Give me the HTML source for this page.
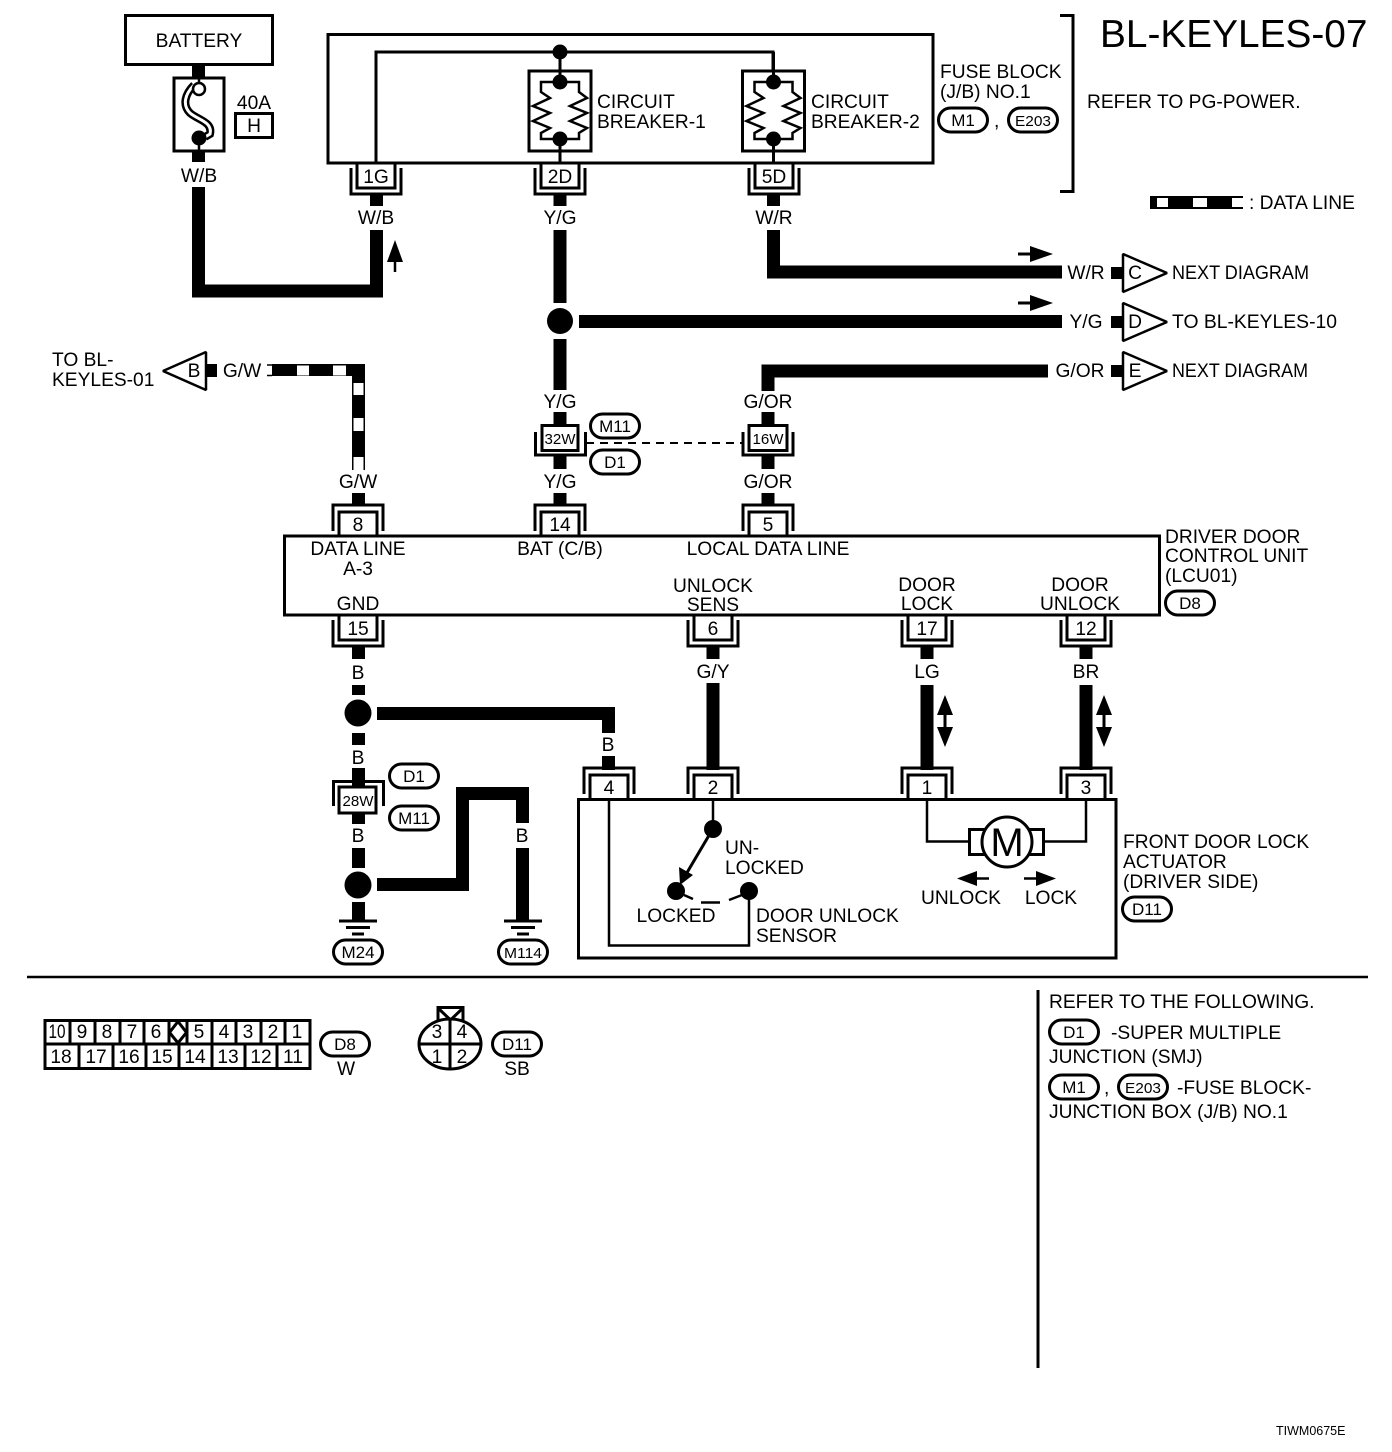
<!DOCTYPE html>
<html><head><meta charset="utf-8"><title>BL-KEYLES-07</title>
<style>
html,body{margin:0;padding:0;background:#fff}
svg{display:block}
text{font-family:"Liberation Sans",Arial,sans-serif;font-size:19.200px;fill:#000;stroke:none}
.m{text-anchor:middle}
.s{font-size:17px}
.x{font-size:15px}
.ln{fill:none;stroke:#000;stroke-width:3}
.th{fill:none;stroke:#000;stroke-width:2.5}
.w{fill:none;stroke:#000;stroke-width:13}
.o{fill:#fff;stroke:#000;stroke-width:3}
</style></head>
<body>
<svg width="1392" height="1452" viewBox="0 0 1392 1452" xmlns="http://www.w3.org/2000/svg">
<defs>
<g id="cd"><path class="ln" d="M-19,0V25H19V0M-25,5V31H25V5"/></g>
<g id="cu"><path class="ln" d="M-19,0V-24H19V0M-25,-5V-31H25V-5"/></g>
<g id="ov"><rect x="-24.5" y="-12" width="49" height="24" rx="12" ry="12" class="o"/></g>
<g id="gnd"><path d="M-19,0H19M-12,6.500H12M-6,13H6" stroke="#000" stroke-width="3" fill="none"/></g>
<g id="cb"><rect x="-31" y="-40" width="62" height="80" class="o"/>
<path class="th" d="M-19,-29V-19L-10,-13L-27,-5L-10,2L-27,10L-10,17L-19,22V28H19V22L27,17L10,10L27,2L10,-5L27,-13L19,-19V-29Z"/>
<path class="ln" d="M0,-59V-29M0,28V52"/>
<circle cx="0" cy="-29" r="7.500"/><circle cx="0" cy="28" r="7.500"/></g>
<g id="tri"><path fill="#fff" stroke="#000" stroke-width="2.500" stroke-linejoin="bevel" d="M0,-19L44,0L0,19Z"/><rect x="-12" y="-6" width="12" height="12"/></g>
<g id="ar"><path d="M1018,0H1035" stroke="#000" stroke-width="3"/><path d="M1030,-8L1053,0L1030,8Z"/></g>
<g id="da"><path d="M0,0L8,20H-8Z"/><path d="M0,52L8,32H-8Z"/><path d="M0,15V40" stroke="#000" stroke-width="3"/></g>
</defs>

<!-- battery & fuse -->
<rect x="125.500" y="15.500" width="147" height="49" class="ln"/>
<text x="199" y="47" class="m">BATTERY</text>
<path class="w" d="M198.500,64V80M198.500,148V162"/>
<rect x="174" y="78" width="50" height="73" class="o"/>
<path d="M194,85C185,94 182,105 190,113C198,120 213,122 210,134L205,137" fill="none" stroke="#000" stroke-width="8"/>
<path d="M194,85C185,94 182,105 190,113C198,120 213,122 210,134L205,137" fill="none" stroke="#fff" stroke-width="3"/>
<circle cx="199" cy="89" r="6" fill="#fff" stroke="#000" stroke-width="2.500"/>
<circle cx="199" cy="138" r="7.500"/>
<path d="M199,70V83M199,145V153" stroke="#000" stroke-width="2.500"/>
<text x="254" y="109" class="m">40A</text>
<rect x="235.500" y="113.500" width="37" height="24" class="ln"/>
<text x="254" y="132" class="m">H</text>
<text x="199" y="182" class="m">W/B</text>
<path class="w" d="M198.500,187V291H376.500V230"/>
<path d="M395,240L403,262H387Z"/><path d="M395,260V272" stroke="#000" stroke-width="2.500"/>

<!-- fuse block -->
<rect x="328" y="34.500" width="605" height="128.500" class="ln"/>
<path class="ln" d="M376,163V52H773V82"/>
<circle cx="560" cy="52" r="7.500"/>
<use href="#cb" x="560" y="111"/>
<use href="#cb" x="773.500" y="111"/>
<text x="597" y="108">CIRCUIT</text>
<text x="597" y="128">BREAKER-1</text>
<text x="811" y="108">CIRCUIT</text>
<text x="811" y="128">BREAKER-2</text>
<text x="940" y="78">FUSE BLOCK</text>
<text x="940" y="98">(J/B) NO.1</text>
<use href="#ov" x="963" y="120"/><text x="963" y="126" class="m s">M1</text>
<text x="994" y="127">,</text>
<use href="#ov" x="1033" y="120"/><text x="1033" y="126" class="m x" textLength="36" lengthAdjust="spacingAndGlyphs">E203</text>
<path class="ln" d="M1060,15.500H1073V191.500H1060"/>
<text x="1100" y="47" style="font-size:38.800px">BL-KEYLES-07</text>
<text x="1087" y="108">REFER TO PG-POWER.</text>

<!-- legend -->
<path d="M1150,197H1243M1150,208H1243" stroke="#000" stroke-width="2"/>
<rect x="1150" y="196" width="7" height="13"/><rect x="1168" y="196" width="25" height="13"/><rect x="1207" y="196" width="25" height="13"/>
<text x="1249" y="209">: DATA LINE</text>

<!-- top connectors -->
<use href="#cd" x="376" y="163"/><text x="376" y="183" class="m">1G</text>
<use href="#cd" x="560" y="163"/><text x="560" y="183" class="m">2D</text>
<use href="#cd" x="774" y="163"/><text x="774" y="183" class="m">5D</text>
<path class="w" d="M376.500,194V206M560,194V206M773.500,194V206"/>
<text x="376" y="224" class="m">W/B</text>
<text x="560" y="224" class="m">Y/G</text>
<text x="774" y="224" class="m">W/R</text>
<path class="w" d="M560,230V303M773.500,230V272H1062"/>
<circle cx="560" cy="321" r="13"/>
<path class="w" d="M579,321.500H1062M560,339V390"/>
<use href="#ar" y="254"/><use href="#ar" y="303"/>

<text x="1086" y="279" class="m">W/R</text>
<text x="1086" y="328" class="m">Y/G</text>
<text x="1080" y="377" class="m">G/OR</text>
<use href="#tri" x="1123" y="273"/><text x="1135" y="279" class="m">C</text>
<use href="#tri" x="1123" y="322"/><text x="1135" y="328" class="m">D</text>
<use href="#tri" x="1123" y="371"/><text x="1135" y="377" class="m">E</text>
<text x="1172" y="279" textLength="137" lengthAdjust="spacingAndGlyphs">NEXT DIAGRAM</text>
<text x="1172" y="328" textLength="165" lengthAdjust="spacingAndGlyphs">TO BL-KEYLES-10</text>
<text x="1172" y="377" textLength="136" lengthAdjust="spacingAndGlyphs">NEXT DIAGRAM</text>
<path class="w" d="M768,391V371H1048"/>

<!-- data line left -->
<text x="52" y="366">TO BL-</text>
<text x="52" y="386">KEYLES-01</text>
<path fill="#fff" stroke="#000" stroke-width="2.500" stroke-linejoin="bevel" d="M206,352L163,371L206,390Z"/>
<text x="194" y="377" class="m">B</text>
<rect x="206" y="364" width="11" height="13"/>
<text x="242" y="377" class="m">G/W</text>
<path d="M272,364H365V470H352V376H272Z"/>
<path d="M267,365H272M267,375.500H272" stroke="#000" stroke-width="1.500"/>
<rect x="297" y="365.500" width="12" height="10" fill="#fff"/><rect x="333" y="365.500" width="13" height="10" fill="#fff"/>
<rect x="353.500" y="383" width="10" height="12" fill="#fff"/><rect x="353.500" y="418" width="10" height="13" fill="#fff"/><rect x="353.500" y="457" width="10" height="13" fill="#fff"/>
<text x="358" y="488" class="m">G/W</text>
<path class="w" d="M358.500,493V505M560,493V505M768,493V505"/>

<!-- inline connectors -->
<text x="560" y="408" class="m">Y/G</text>
<text x="768" y="408" class="m">G/OR</text>
<path class="w" d="M560,412V426M560,455V469M768,412V426M768,455V469"/>
<rect x="542" y="425.500" width="36" height="25" class="o"/><path class="ln" d="M535.500,432V455H585.500V432"/>
<text x="560" y="444" class="m x" textLength="31" lengthAdjust="spacingAndGlyphs">32W</text>
<rect x="749" y="425.500" width="38" height="25" class="o"/><path class="ln" d="M743,432V455H793V432"/>
<text x="768" y="444" class="m x" textLength="31" lengthAdjust="spacingAndGlyphs">16W</text>
<path d="M586,443H742" stroke="#000" stroke-width="2" stroke-dasharray="8 6"/>
<use href="#ov" x="615" y="426"/><text x="615" y="432" class="m s">M11</text>
<use href="#ov" x="615" y="462"/><text x="615" y="468" class="m s">D1</text>
<text x="560" y="488" class="m">Y/G</text>
<text x="768" y="488" class="m">G/OR</text>

<!-- driver door control unit -->
<use href="#cu" x="358" y="536"/><text x="358" y="531" class="m">8</text>
<use href="#cu" x="560" y="536"/><text x="560" y="531" class="m">14</text>
<use href="#cu" x="768" y="536"/><text x="768" y="531" class="m">5</text>
<rect x="284.500" y="536" width="875" height="79" class="ln"/>
<text x="358" y="555" class="m">DATA LINE</text>
<text x="358" y="575" class="m">A-3</text>
<text x="358" y="610" class="m">GND</text>
<text x="560" y="555" class="m">BAT (C/B)</text>
<text x="768" y="555" class="m">LOCAL DATA LINE</text>
<text x="713" y="592" class="m">UNLOCK</text>
<text x="713" y="611" class="m">SENS</text>
<text x="927" y="591" class="m">DOOR</text>
<text x="927" y="610" class="m">LOCK</text>
<text x="1080" y="591" class="m">DOOR</text>
<text x="1080" y="610" class="m">UNLOCK</text>
<text x="1165" y="543">DRIVER DOOR</text>
<text x="1165" y="562">CONTROL UNIT</text>
<text x="1165" y="582">(LCU01)</text>
<use href="#ov" x="1190" y="603"/><text x="1190" y="609" class="m s">D8</text>

<use href="#cd" x="358" y="615"/><text x="358" y="635" class="m">15</text>
<use href="#cd" x="713" y="615"/><text x="713" y="635" class="m">6</text>
<use href="#cd" x="927" y="615"/><text x="927" y="635" class="m">17</text>
<use href="#cd" x="1086" y="615"/><text x="1086" y="635" class="m">12</text>
<path class="w" d="M358.500,646V659M358.500,685V695M358.500,733V745M358.500,768V786M358.500,812V824M358.500,848V868M358.500,902V922"/>
<text x="358" y="679" class="m">B</text>
<circle cx="358" cy="713" r="13.500"/>
<text x="358" y="764" class="m">B</text>
<path class="ln" d="M333.500,806V781.500H383.500V806"/>
<rect x="339" y="787" width="37" height="26" class="o"/>
<text x="358" y="806" class="m x" textLength="31" lengthAdjust="spacingAndGlyphs">28W</text>
<use href="#ov" x="414" y="776"/><text x="414" y="782" class="m s">D1</text>
<use href="#ov" x="414" y="818"/><text x="414" y="824" class="m s">M11</text>
<text x="358" y="842" class="m">B</text>
<circle cx="358" cy="885" r="13.500"/>
<use href="#gnd" x="358" y="921"/>
<use href="#ov" x="358" y="952"/><text x="358" y="958" class="m s">M24</text>

<path class="w" d="M377,713.500H608.500V733M608.500,756V770"/>
<text x="608" y="751" class="m">B</text>
<path class="w" d="M377,884.500H462.500V793.500H522.500V823M462.500,848V885M522.500,848V921"/>
<text x="462" y="842" class="m">B</text>
<text x="522" y="842" class="m">B</text>
<use href="#gnd" x="523" y="921"/>
<use href="#ov" x="523" y="952"/><text x="523" y="958" class="m x" textLength="38" lengthAdjust="spacingAndGlyphs">M114</text>

<text x="713" y="678" class="m">G/Y</text>
<text x="927" y="678" class="m">LG</text>
<text x="1086" y="678" class="m">BR</text>
<path class="w" d="M713,646V659M927,646V659M1086,646V659M713,683V770M927,685V770M1086,685V770"/>
<use href="#da" x="945" y="695"/><use href="#da" x="1104" y="695"/>

<!-- actuator -->
<use href="#cu" x="609" y="799"/><text x="609" y="794" class="m">4</text>
<use href="#cu" x="713" y="799"/><text x="713" y="794" class="m">2</text>
<use href="#cu" x="927" y="799"/><text x="927" y="794" class="m">1</text>
<use href="#cu" x="1086" y="799"/><text x="1086" y="794" class="m">3</text>
<rect x="578.500" y="799.500" width="537.500" height="158.500" class="ln"/>
<path class="th" d="M609,799V945.500H749V891"/>
<path class="th" d="M713,799V829"/>
<circle cx="713" cy="829" r="9"/><circle cx="676" cy="891" r="9"/><circle cx="749" cy="891" r="9"/>
<path d="M711,832L685,876" stroke="#000" stroke-width="3"/>
<path d="M680,885L679,867L693,875Z"/>
<path d="M684,895L693,899M701,902.500H720M729,900L742,895" stroke="#000" stroke-width="2.500" fill="none"/>
<text x="725" y="854">UN-</text>
<text x="725" y="874">LOCKED</text>
<text x="676" y="922" class="m">LOCKED</text>
<text x="756" y="922">DOOR UNLOCK</text>
<text x="756" y="942">SENSOR</text>
<path class="th" d="M927,799V841.500H970M1044,841.500H1086V799"/>
<rect x="969.500" y="829.500" width="74" height="25" class="ln"/>
<circle cx="1007" cy="842" r="25" class="o"/>
<text x="1007" y="856" class="m" style="font-size:40px">M</text>
<path d="M957,878.500L977,871V886Z"/><path d="M975,878.500H989" stroke="#000" stroke-width="2.500"/>
<path d="M1056,878.500L1036,871V886Z"/><path d="M1024,878.500H1038" stroke="#000" stroke-width="2.500"/>
<text x="961" y="904" class="m">UNLOCK</text>
<text x="1051" y="904" class="m">LOCK</text>
<text x="1123" y="848">FRONT DOOR LOCK</text>
<text x="1123" y="868">ACTUATOR</text>
<text x="1123" y="888">(DRIVER SIDE)</text>
<use href="#ov" x="1147" y="909"/><text x="1147" y="915" class="m s">D11</text>

<!-- dividers -->
<path d="M27,977H1368" stroke="#000" stroke-width="2.500"/>
<path d="M1038,990V1368" stroke="#000" stroke-width="3"/>

<!-- connector D8 -->
<rect x="45" y="1020.500" width="265" height="48" class="ln"/>
<path class="ln" d="M45,1044H310M70,1020V1044M95,1020V1044M120,1020V1044M144,1020V1044M169,1020V1044M187,1020V1044M212,1020V1044M236,1020V1044M261,1020V1044M285,1020V1044M79,1044V1068M113,1044V1068M146,1044V1068M179,1044V1068M212,1044V1068M245,1044V1068M277,1044V1068"/>
<path d="M178,1021.500L186.500,1032.500L178,1043L169.500,1032.500Z" fill="#fff" stroke="#000" stroke-width="3"/>
<g class="m">
<text x="57" y="1038" class="m" textLength="17" lengthAdjust="spacingAndGlyphs">10</text><text x="82" y="1038" class="m">9</text><text x="107" y="1038" class="m">8</text><text x="132" y="1038" class="m">7</text><text x="156" y="1038" class="m">6</text><text x="199" y="1038" class="m">5</text><text x="224" y="1038" class="m">4</text><text x="248" y="1038" class="m">3</text><text x="273" y="1038" class="m">2</text><text x="297" y="1038" class="m">1</text>
<text x="61" y="1063" class="m">18</text><text x="96" y="1063" class="m">17</text><text x="129" y="1063" class="m">16</text><text x="162" y="1063" class="m">15</text><text x="195" y="1063" class="m">14</text><text x="228" y="1063" class="m">13</text><text x="261" y="1063" class="m">12</text><text x="293" y="1063" class="m">11</text>
</g>
<use href="#ov" x="345" y="1044"/><text x="345" y="1050" class="m s">D8</text>
<text x="346" y="1075" class="m">W</text>

<!-- connector D11 -->
<rect x="438" y="1007.500" width="25" height="13" class="ln"/>
<path class="ln" d="M438,1008L450.500,1020L463,1008"/>
<ellipse cx="450" cy="1044" rx="31" ry="25" class="o"/>
<path class="ln" d="M419,1044H481M450,1019V1069"/>
<text x="437" y="1038" class="m">3</text><text x="462" y="1038" class="m">4</text>
<text x="437" y="1063" class="m">1</text><text x="462" y="1063" class="m">2</text>
<use href="#ov" x="517" y="1044"/><text x="517" y="1050" class="m s">D11</text>
<text x="517" y="1075" class="m">SB</text>

<!-- references -->
<text x="1049" y="1008">REFER TO THE FOLLOWING.</text>
<use href="#ov" x="1074" y="1032"/><text x="1074" y="1038" class="m s">D1</text>
<text x="1111" y="1039">-SUPER MULTIPLE</text>
<text x="1049" y="1063">JUNCTION (SMJ)</text>
<use href="#ov" x="1074" y="1087"/><text x="1074" y="1093" class="m s">M1</text>
<text x="1104" y="1094">,</text>
<use href="#ov" x="1143" y="1087"/><text x="1143" y="1093" class="m x" textLength="36" lengthAdjust="spacingAndGlyphs">E203</text>
<text x="1177" y="1094">-FUSE BLOCK-</text>
<text x="1049" y="1118">JUNCTION BOX (J/B) NO.1</text>
<text x="1276" y="1435" style="font-size:12.500px">TIWM0675E</text>
</svg>
</body></html>
